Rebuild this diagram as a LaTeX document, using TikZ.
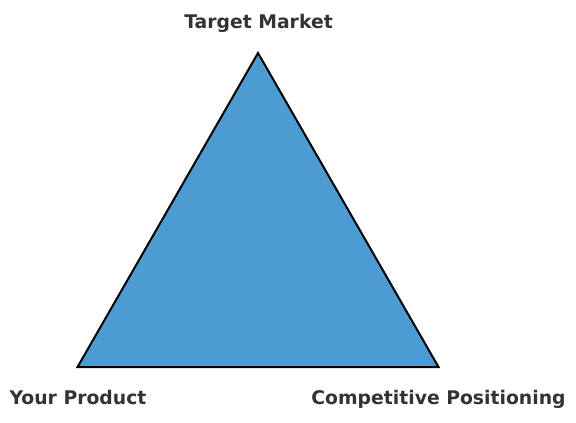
\documentclass[tikz,border=0pt]{standalone}
\usepackage{fontspec}
\setmainfont{DejaVu Sans}
\usetikzlibrary{positioning}
\definecolor{triblue}{RGB}{76,155,211}
\definecolor{labelgray}{RGB}{51,51,51}
\tikzset{
	corner label/.style={anchor=base, text=labelgray, font=\fontsize{18.8bp}{22bp}\selectfont\bfseries, inner sep=0pt},
	tri/.style={draw=black, line width=2bp, fill=triblue, line join=miter}
}
\begin{document}
\begin{tikzpicture}[x=1bp,y=-1bp]
	\useasboundingbox (0,0) rectangle (576,422);
	
	\coordinate (market) at (258,53);
	\coordinate (product) at (77.5,367);
	\coordinate (position) at (438.5,367);
	
	\draw[tri] (market) -- (product) -- (position) -- cycle;
	
	\node[corner label] (marketlabel) at (258.5,28.5) {Target Market};
	\node[corner label] (productlabel) at (78,404) {Your Product};
	\node[corner label] (positionlabel) at (438.5,404) {Competitive Positioning};
\end{tikzpicture}
\end{document}
